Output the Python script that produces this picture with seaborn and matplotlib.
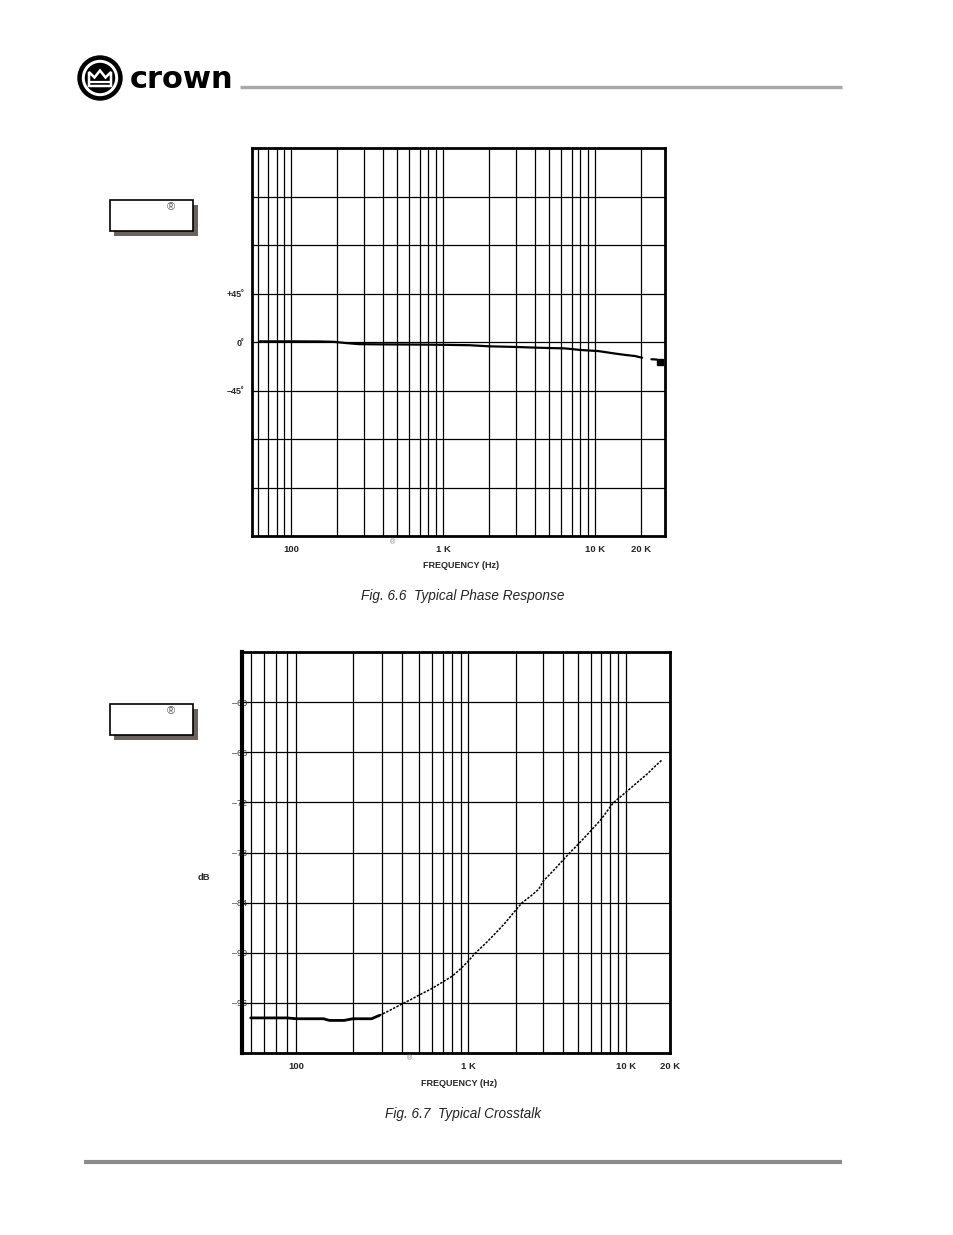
import numpy as np
import pandas as pd
import matplotlib
matplotlib.use("Agg")
import matplotlib.pyplot as plt
import seaborn as sns
from matplotlib.ticker import LogLocator, FixedLocator, FixedFormatter, NullFormatter
from matplotlib.patches import Circle, Rectangle, Polygon

# ---------------- data ----------------
phase_freq = [62, 100, 150, 190, 230, 280, 400, 700, 1000, 1500, 2000, 3000,
              4000, 5000, 6300, 8000, 10500, 13200, 15800, 18300, 20400]
phase_deg = [0.6, 0.6, 0.5, 0.2, -1.0, -2.0, -2.2, -2.4, -2.6, -3.0, -4.0, -4.6,
             -5.2, -5.6, -5.9, -7.4, -8.4, -10.5, -12.0, -13.0, -14.6]
phase_tail_freq = [23500, 25500]
phase_tail_deg = [-16.0, -16.3]
phase_end_freq = [26700]
phase_end_deg = [-19.0]

xt_freq = [60, 90, 100, 140, 150, 180, 200, 260, 290, 320, 350, 400, 450, 500,
           600, 700, 800, 900, 1000, 1100, 1300, 1500, 1700, 2000, 2200, 2500,
           2800, 3000, 3500, 4000, 4430, 5000, 6000, 7000, 8000, 8400, 10000,
           12000, 14000, 16000, 17700]
xt_db = [-97.8, -97.8, -97.9, -97.9, -98.1, -98.1, -97.9, -97.9, -97.5, -97.1,
         -96.7, -96.1, -95.6, -95.1, -94.3, -93.5, -92.8, -91.9, -91.0, -90.1,
         -88.8, -87.6, -86.5, -84.9, -84.0, -83.2, -82.4, -81.4, -80.1, -78.9,
         -78.0, -77.0, -75.4, -74.0, -72.5, -72.0, -70.8, -69.6, -68.6, -67.6,
         -66.9]

x_tick_vals = [100, 1000, 10000, 20000]
x_tick_labels = ["100", "1 K", "10 K", "20 K"]
phase_yticks = [-135, -90, -45, 0, 45, 90, 135]
phase_ylabels = ["", "", "\u201345\u02da", "0\u02da", "+45\u02da", "", ""]
xt_yticks = [-96, -90, -84, -78, -72, -66, -60]
xt_ylabels = ["\u201396", "\u201390", "\u201384", "\u201378", "\u201372", "\u201366", "\u201360"]

# frequency-axis warp of the printed (scanned) crosstalk graph paper:
# relative length of each log segment between these frequencies
paper_freq = [54.7, 60, 100, 200, 1000, 10000, 20000]
paper_len = [0.0, 8.4, 45.6, 56.4, 115.6, 157.4, 44.3]

# ---------------- style ----------------
sns.set_style("white")
plt.rcParams["font.family"] = ["Liberation Sans", "DejaVu Sans"]

W, H = 954, 1235
fig = plt.figure(figsize=(W / 100, H / 100), dpi=100)


def px_rect(x0, y0, x1, y1):
    return [x0 / W, 1 - y1 / H, (x1 - x0) / W, (y1 - y0) / H]


_lf = np.log10(paper_freq)
_cum = np.cumsum(paper_len)
_s0 = (_cum[2] - _cum[1]) / (_lf[2] - _lf[1])
_s1 = (_cum[-1] - _cum[-2]) / (_lf[-1] - _lf[-2])


def paper_fwd(f):
    f = np.clip(np.asarray(f, dtype=float), 1e-3, None)
    lf = np.log10(f)
    out = np.interp(lf, _lf, _cum)
    out = np.where(lf < _lf[0], _cum[0] + (lf - _lf[0]) * _s0, out)
    out = np.where(lf > _lf[-1], _cum[-1] + (lf - _lf[-1]) * _s1, out)
    return out


def paper_inv(u):
    u = np.asarray(u, dtype=float)
    lf = np.interp(u, _cum, _lf)
    lf = np.where(u < _cum[0], _lf[0] + (u - _cum[0]) / _s0, lf)
    lf = np.where(u > _cum[-1], _lf[-1] + (u - _cum[-1]) / _s1, lf)
    return 10 ** lf


def style_axes(ax, xlim, ylim):
    ax.set_xlim(*xlim)
    ax.set_ylim(*ylim)
    ax.xaxis.set_major_locator(FixedLocator(x_tick_vals))
    ax.xaxis.set_major_formatter(FixedFormatter(x_tick_labels))
    ax.xaxis.set_minor_locator(LogLocator(base=10, subs=np.arange(2, 10), numticks=30))
    ax.xaxis.set_minor_formatter(NullFormatter())
    ax.grid(which="both", axis="both", color="black", lw=0.9)
    ax.tick_params(which="both", length=0)
    for s in ax.spines.values():
        s.set_color("black")
        s.set_linewidth(2.0)
    ax.set_xlabel("")
    ax.set_ylabel("")
    for t in ax.get_xticklabels():
        t.set_fontweight("bold")
        t.set_fontsize(6.8)
    ax.tick_params(axis="x", pad=6.3)


# ---------------- top chart: phase ----------------
ax1 = fig.add_axes(px_rect(252.3, 148, 665.3, 536))
sns.lineplot(x=phase_freq, y=phase_deg, ax=ax1, color="black", lw=1.6,
             estimator=None, sort=False)
sns.lineplot(x=phase_tail_freq, y=phase_tail_deg, ax=ax1, color="black", lw=1.6,
             estimator=None, sort=False)
ax1.plot(phase_end_freq, phase_end_deg, marker="s", ms=5, color="black", ls="none")
ax1.set_xscale("log")
ax1.set_yticks(phase_yticks)
ax1.set_yticklabels(phase_ylabels)
style_axes(ax1, (55.4, 29000), (-180, 180))
for t in ax1.get_yticklabels():
    t.set_fontweight("bold")
    t.set_fontsize(6.5)
ax1.tick_params(axis="y", pad=5.6)

# ---------------- bottom chart: crosstalk ----------------
ax2 = fig.add_axes(px_rect(242.3, 652, 670, 1053))
ax2.set_xscale("function", functions=(paper_fwd, paper_inv))
xt = pd.DataFrame({"freq": xt_freq, "db": xt_db})
low = xt[xt["freq"] <= 290]
high = xt[xt["freq"] >= 290]
sns.lineplot(data=low, x="freq", y="db", ax=ax2, color="black", lw=2.0,
             estimator=None, sort=False)
sns.lineplot(data=high, x="freq", y="db", ax=ax2, color="black", lw=1.1,
             estimator=None, sort=False, linestyle=(0, (1.6, 0.9)))
ax2.set_yticks(xt_yticks)
ax2.set_yticklabels(xt_ylabels)
style_axes(ax2, (paper_freq[0], paper_freq[-1]), (-102, -54))
ax2.spines["left"].set_linewidth(3.0)
for t in ax2.get_yticklabels():
    t.set_fontsize(6.5)
    t.set_color("#333333")
ax2.tick_params(axis="y", pad=-3.6)

# ---------------- page decorations ----------------
axo = fig.add_axes([0, 0, 1, 1])
axo.set_xlim(0, W)
axo.set_ylim(H, 0)
axo.axis("off")
axo.patch.set_alpha(0)

# logo
axo.add_patch(Circle((100, 78), 22, color="black"))
axo.add_patch(Circle((100, 78), 17.5, color="white"))
axo.add_patch(Circle((100, 78), 14.5, color="black"))
axo.add_patch(Polygon([(89, 86), (89, 72), (94.5, 77.5), (100, 70.5), (105.5, 77.5),
                       (111, 72), (111, 86)], closed=True, fill=False,
                      edgecolor="white", lw=1.8))
axo.plot([89, 111], [81.5, 81.5], color="white", lw=1.6)
axo.text(130, 79, "crown", fontsize=22, fontweight="heavy",
         family=["DejaVu Sans"], va="center", ha="left", color="black")

# rules
axo.plot([240, 842], [87, 87], color="#a8a8a8", lw=2.4, solid_capstyle="butt")
axo.plot([84, 842], [1162, 1162], color="#8a8a8a", lw=3.0, solid_capstyle="butt")

# side boxes with shadow
for (bx, by) in [(110, 200), (110, 704)]:
    axo.add_patch(Rectangle((bx + 4.5, by + 4.5), 83.5, 31, facecolor="#6b6360",
                            edgecolor="none"))
    axo.add_patch(Rectangle((bx, by), 83.5, 31, facecolor="white",
                            edgecolor="black", lw=1.2))
    axo.text(bx + 61, by + 7, "\u00ae", fontsize=8, color="#555555",
             ha="center", va="center")

# small registered marks
axo.text(393, 543, "\u00ae", fontsize=5, color="#777777", ha="center", va="center")
axo.text(410, 1059, "\u00ae", fontsize=5, color="#777777", ha="center", va="center")

# axis titles
axo.text(461, 566, "FREQUENCY (Hz)", fontsize=6.5, fontweight="bold",
         ha="center", va="center")
axo.text(459, 1083, "FREQUENCY (Hz)", fontsize=6.5, fontweight="bold",
         ha="center", va="center")
axo.text(204, 877, "dB", fontsize=6.8, fontweight="bold", ha="center", va="center")

# captions
axo.text(463, 596, "Fig. 6.6  Typical Phase Response", fontsize=9.8,
         fontstyle="italic", ha="center", va="center", color="#222222")
axo.text(463, 1114, "Fig. 6.7  Typical Crosstalk", fontsize=9.8,
         fontstyle="italic", ha="center", va="center", color="#222222")

fig.savefig("out.png", dpi=100, facecolor="white")
